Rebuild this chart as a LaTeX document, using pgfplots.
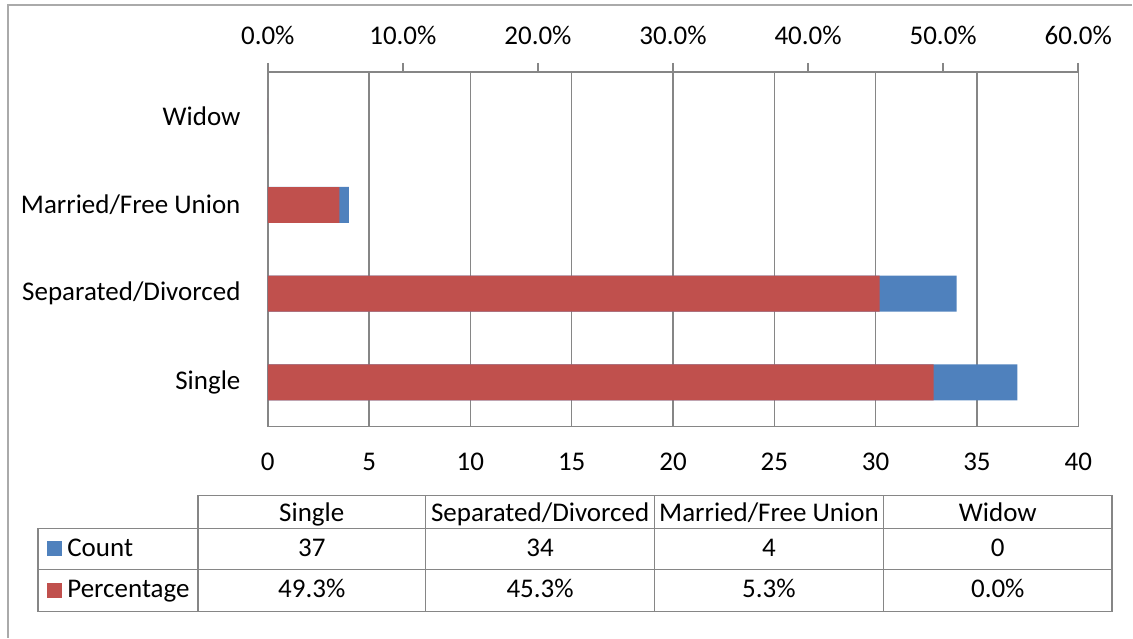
\documentclass[border=0pt]{standalone}
\usepackage{fontspec}
\setmainfont{Carlito}
\usepackage{pgfplots}
\pgfplotsset{compat=1.18}
\definecolor{cntblue}{HTML}{4F81BD}
\definecolor{pctred}{HTML}{C0504D}
\definecolor{gridc}{HTML}{868686}

\begin{document}
\fontsize{13.5}{16}\selectfont
\begin{tikzpicture}
% page frame and table, drawn in pixel units of the reference
\begin{scope}[x=0.5pt,y=-0.5pt]
  \path (0,0) rectangle (1133,638);
  \draw[gridc!70, line width=0.8pt] (8,638) -- (8,5) -- (1133,5);
  % data table
  \draw[gridc, line width=0.75pt] (198,496) rectangle (1113,529);
  \draw[gridc, line width=0.75pt] (38,529) rectangle (1113,612);
  \draw[gridc, line width=0.75pt] (38,570) -- (1113,570);
  \foreach \xx in {198,426,655,884} \draw[gridc, line width=0.75pt] (\xx,496) -- (\xx,612);
  \fill[cntblue] (47,541) rectangle (62,556);
  \fill[pctred] (47,583) rectangle (62,598);
  \node[anchor=base west, inner sep=0] at (67,557) {Count};
  \node[anchor=base west, inner sep=0] at (67,598) {Percentage};
  \foreach \cx/\hd/\cn/\pc in {312/Single/37/49.3\%, 540.5/Separated\slash Divorced/34/45.3\%, 769.5/Married\slash Free Union/4/5.3\%, 998.5/Widow/0/0.0\%} {
    \node[anchor=base, inner sep=0] at (\cx,522) {\hd};
    \node[anchor=base, inner sep=0] at (\cx,557) {\cn};
    \node[anchor=base, inner sep=0] at (\cx,598) {\pc};
  }
\end{scope}

% count axis (bottom)
\begin{axis}[at={(134pt,-36pt)}, anchor=north west, scale only axis,
    width=405.5pt, height=177.5pt,
    xbar, bar width=18pt,
    xmin=0, xmax=40, ymin=-0.5, ymax=3.5,
    xtick={0,5,...,40}, ytick={0,1,2,3},
    yticklabels={Single,Separated/Divorced,Married/Free Union,Widow},
    axis x line*=bottom, axis y line*=left,
    axis line style={gridc, line width=0.75pt},
    xmajorgrids, major grid style={gridc, line width=0.7pt},
    major tick length=0pt,
    tick label style={font=\fontsize{13.5}{16}\selectfont},
    xticklabel style={yshift=-8.5pt},
    yticklabel style={xshift=-9pt},
    /pgf/number format/assume math mode=true]
  \addplot[fill=cntblue, draw=none] coordinates {(37,0) (34,1) (4,2) (0,3)};
\end{axis}

% percentage axis (top)
\begin{axis}[at={(134pt,-36pt)}, anchor=north west, scale only axis,
    width=405.5pt, height=177.5pt,
    xbar, bar width=18pt,
    xmin=0, xmax=60, ymin=-0.5, ymax=3.5,
    xtick={0,10,...,60},
    xticklabels={0.0\%,10.0\%,20.0\%,30.0\%,40.0\%,50.0\%,60.0\%},
    axis x line*=top, axis y line=none,
    axis line style={gridc, line width=0.75pt},
    tick style={gridc, line width=0.75pt},
    tick align=outside, major tick length=4.5pt,
    tick label style={font=\fontsize{13.5}{16}\selectfont},
    xticklabel style={yshift=4.5pt}]
  \addplot[fill=pctred, draw=none] coordinates {(49.3,0) (45.3,1) (5.3,2) (0.0,3)};
\end{axis}
\end{tikzpicture}
\end{document}
